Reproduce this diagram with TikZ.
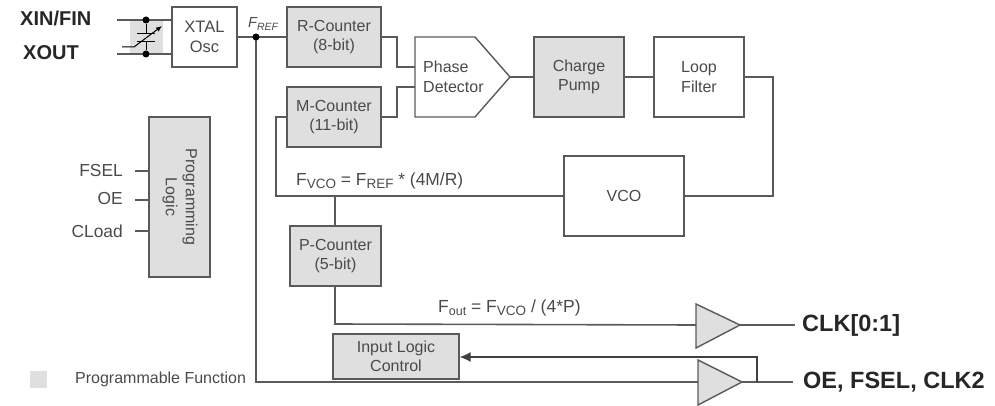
\documentclass[tikz,border=0pt]{standalone}
\usepackage{fontspec}
\setmainfont{Liberation Sans}
\usetikzlibrary{arrows.meta}
\definecolor{fillg}{HTML}{DFDFDF}
\definecolor{linec}{HTML}{5A5A5A}
\definecolor{txt}{HTML}{4A4A4A}
\tikzset{
  blk/.style={draw=linec,line width=1.4pt,minimum width=#1,inner sep=0pt,align=center,text=txt,font=\fontsize{16}{19.5}\selectfont},
  plain/.style={blk=90pt,fill=white,minimum height=80pt},
  prog/.style={blk=94pt,fill=fillg,minimum height=60pt},
  wire/.style={draw=linec,line width=1.3pt},
  lab/.style={inner sep=0pt,text=txt,font=\fontsize{16}{20}\selectfont},
  big/.style={inner sep=0pt,anchor=west,text=black!85,font=\fontsize{23.5}{26}\selectfont\bfseries},
  mid/.style={inner sep=0pt,anchor=west,text=black!85,font=\fontsize{20}{22}\selectfont\bfseries},
  sideh/.style={inner sep=0pt,anchor=east,text=txt,font=\fontsize{17.4}{20}\selectfont},
  dotn/.style={circle,fill=black,inner sep=0pt,minimum size=7pt}
}
\newcommand{\subs}[2]{\raisebox{-2.5pt}{\fontsize{#1}{#1}\selectfont #2}}
\begin{document}
\begin{tikzpicture}[x=1pt,y=-1pt]
\useasboundingbox (0,0) rectangle (995,406);
% crystal
\fill[fillg] (130,20) rectangle (163,54);
\node[blk=65pt,minimum height=60pt,fill=white,font=\fontsize{16.5}{20}\selectfont] (xtal) at (204.5,37) {XTAL\\Osc};
\node[prog] (rc) at (334,37) {R-Counter\\(8-bit)};
\node[prog] (mc) at (334,117) {M-Counter\\(11-bit)};
\node[blk=91pt,fill=fillg,minimum height=60pt] (pc) at (335.5,256) {P-Counter\\(5-bit)};
\node[blk=90pt,fill=fillg,minimum height=80pt] (cp) at (579,77) {Charge\\Pump};
\node[plain] (lf) at (699,77) {Loop\\Filter};
\node[blk=120pt,fill=white,minimum height=80pt] (vco) at (624,196) {VCO};
\node[blk=61pt,fill=fillg,minimum height=160pt] (pl) at (179.5,197) {};
\node[lab,rotate=-90,align=center] (pltxt) at (180,197) {Programming\\Logic};
\node[blk=126pt,fill=fillg,minimum height=45pt] (il) at (396,356.5) {Input Logic\\Control};
% phase detector
\draw[draw=linec,line width=1.4pt,fill=white] (415,37) coordinate (pdtl) -- (475,37) -- (510,77) coordinate (pdout) -- (475,117) -- (415,117) coordinate (pdbl) -- cycle;
\coordinate (pda) at (415,67);
\coordinate (pdb) at (415,87);
\node[lab,anchor=west,align=left] (pdt) at (423,76.5) {Phase\\Detector};
% buffers
\draw[draw=linec,line width=1.4pt,fill=fillg] (696,304) coordinate (b1t) -- (740,325) coordinate (b1o) -- (696,348) -- cycle;
\draw[draw=linec,line width=1.4pt,fill=fillg] (698,360) coordinate (b2t) -- (742,382) coordinate (b2o) -- (698,405) -- cycle;
\coordinate (b1i) at (696,325);
\coordinate (b2i) at (698,382);
% labels on the right
\node[big] (clk) at (802,325) {CLK[0:1]};
\node[big] (oe) at (803,382) {OE, FSEL, CLK2};
\coordinate (clkw) at (795,325);
\coordinate (oew) at (793,382);
\draw[wire] (b1o) -- (clkw);
\draw[wire] (b2o) -- (oew);
% wires
\coordinate (fdot) at (256,37);
\draw[wire] (xtal.east) -- (rc.west);
\draw[wire,line width=1.6pt] (fdot) -- (256,382) -- (b2i);
\draw[wire] (rc.east) -- (397,37) -- (397,67) -- (pda);
\draw[wire] (mc.east) -- (397,117) -- (397,87) -- (pdb);
\draw[wire] (pdout) -- (cp.west);
\draw[wire] (cp.east) -- (lf.west);
\draw[wire,line width=1.6pt] (lf.east) -- (773,77) -- (773,196) -- (vco.east);
\draw[wire,line width=1.6pt] (vco.west) -- (276,196) -- (276,117) -- (mc.west);
\draw[wire,line width=1.6pt] (335,196) -- (335,226);
\draw[wire,line width=1.6pt] (335,286) -- (335,324) -- (b1i);
\draw[wire,draw=black!75,line width=1.1pt,-{Latex[length=11pt,width=10pt]}] (757,382) -- (757,357) -- (il.east |- 0,357);
\node[dotn] (fd) at (fdot) {};
% crystal part
\node[mid] (xin) at (20,18) {XIN/FIN};
\node[mid] (xout) at (23,53) {XOUT};
\coordinate (a1) at (117,20); \coordinate (a2) at (117,54);
\coordinate (e1) at (171,20); \coordinate (e2) at (171,54);
\draw[wire] (a1) -- (e1);
\draw[wire] (a2) -- (e2);
\node[dotn] (d1) at (146,20) {};
\node[dotn] (d2) at (146,54) {};
\draw[black,line width=1pt] (d1) -- (146,34) (146,42) -- (d2);
\draw[black,line width=1pt] (137,34) -- (155,34) (137,42) -- (155,42);
\draw[black,line width=1pt,-{Latex[length=6pt,width=5pt]}] (122,47) -- (134,47) -- (162,26);
% formula and text
\node[lab,font=\fontsize{14.5}{15}\selectfont\itshape,anchor=west] (fref) at (248,24) {F\subs{10.5}{REF}};
\node[lab,anchor=west,font=\fontsize{17.4}{20}\selectfont] (fvco) at (296,181) {F\subs{13.5}{VCO} = F\subs{13.5}{REF} * (4M/R)};
\node[lab,anchor=west,font=\fontsize{17.5}{20}\selectfont] (fout) at (438,308) {F\subs{12.5}{out} = F\subs{13.5}{VCO} / (4*P)};
\node[sideh] (fsel) at (123,171) {FSEL};
\node[sideh] (oel) at (123,199) {OE};
\node[sideh] (cl) at (123,231) {CLoad};
\draw[wire] (135,171) -- (pl.west |- 0,171);
\draw[wire] (135,200) -- (pl.west |- 0,200);
\draw[wire] (135,231) -- (pl.west |- 0,231);
\node[fill=fillg,minimum size=17pt,inner sep=0pt] (leg) at (38,379) {};
\node[lab,anchor=west] (legt) at (75,379) {Programmable Function};
\end{tikzpicture}
\end{document}
